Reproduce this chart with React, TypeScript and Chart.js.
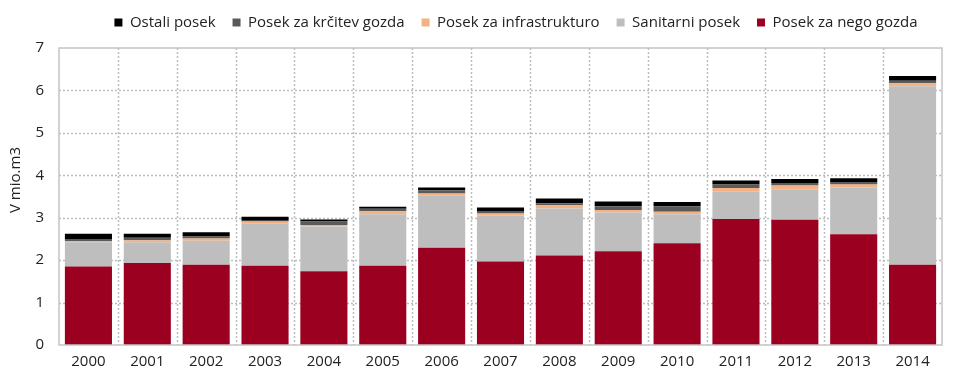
import React, { useEffect, useRef } from "react";
import { Chart, registerables } from "chart.js";

Chart.register(...registerables);

const years = ["2000","2001","2002","2003","2004","2005","2006","2007","2008","2009","2010","2011","2012","2013","2014"];
const negaGozda = [1.85,1.93,1.89,1.87,1.74,1.87,2.29,1.97,2.11,2.21,2.40,2.97,2.95,2.61,1.89];
const sanitarni = [0.57,0.49,0.57,1.00,1.05,1.21,1.24,1.08,1.11,0.91,0.68,0.64,0.72,1.10,4.21];
const infrastruktura = [0.03,0.05,0.05,0.04,0.04,0.07,0.04,0.05,0.08,0.06,0.06,0.09,0.09,0.07,0.07];
const krcitev = [0.05,0.06,0.05,0.02,0.08,0.06,0.08,0.06,0.04,0.09,0.13,0.08,0.06,0.06,0.06];
const ostali = [0.12,0.09,0.10,0.09,0.05,0.05,0.06,0.08,0.11,0.11,0.10,0.10,0.09,0.09,0.11];
const yTicks = [0,1,2,3,4,5,6,7];
const yTitle = "V mio.m3";

const FONT = "'Open Sans', 'Noto Sans', sans-serif";
const LEGEND_SHIFT = 45;

const gridPlugin = {
  id: "gridPlugin",
  beforeInit(chart: any) {
    const legend = chart.legend;
    if (legend) {
      const fit = legend.fit;
      legend.fit = function () {
        fit.call(this);
        this.height = 50;
      };
      const draw = legend.draw;
      legend.draw = function () {
        const ctx = this.ctx;
        ctx.save();
        ctx.translate(LEGEND_SHIFT, 0);
        draw.call(this);
        ctx.restore();
      };
    }
  },
  beforeDatasetsDraw(chart: any) {
    const { ctx, chartArea, scales } = chart;
    const { left, right, top, bottom } = chartArea;
    ctx.save();
    ctx.strokeStyle = "#bdbdbd";
    ctx.lineWidth = 1.5;
    ctx.setLineDash([2, 2]);
    for (const v of yTicks) {
      if (v === 0 || v === 7) continue;
      const y = Math.round(scales.y.getPixelForValue(v)) + 0.5;
      ctx.beginPath();
      ctx.moveTo(left, y);
      ctx.lineTo(right, y);
      ctx.stroke();
    }
    const n = years.length;
    for (let i = 1; i < n; i++) {
      const x = Math.round((scales.x.getPixelForValue(i - 1) + scales.x.getPixelForValue(i)) / 2) + 0.5;
      ctx.beginPath();
      ctx.moveTo(x, top);
      ctx.lineTo(x, bottom);
      ctx.stroke();
    }
    ctx.restore();
  },
  afterDraw(chart: any) {
    const { ctx, chartArea } = chart;
    ctx.save();
    ctx.strokeStyle = "#c4c4c4";
    ctx.lineWidth = 1.5;
    ctx.setLineDash([]);
    ctx.strokeRect(chartArea.left, chartArea.top, chartArea.right - chartArea.left, chartArea.bottom - chartArea.top);
    // y-axis title
    ctx.translate(16, 180);
    ctx.rotate(-Math.PI / 2);
    ctx.fillStyle = "#222";
    ctx.font = `15px ${FONT}`;
    ctx.textAlign = "center";
    ctx.textBaseline = "middle";
    ctx.fillText(yTitle, 0, 0);
    ctx.restore();
  },
};

export default function App() {
  const ref = useRef<HTMLCanvasElement | null>(null);
  useEffect(() => {
    document.body.style.margin = "0";
    const c = ref.current;
    if (!c) return;
    const chart = new Chart(c, {
      type: "bar",
      data: {
        labels: years,
        datasets: [
          { label: "Posek za nego gozda", data: negaGozda, backgroundColor: "#9c0020" },
          { label: "Sanitarni posek", data: sanitarni, backgroundColor: "#bebebe" },
          { label: "Posek za infrastrukturo", data: infrastruktura, backgroundColor: "#f4b183" },
          { label: "Posek za krčitev gozda", data: krcitev, backgroundColor: "#5a5a5a" },
          { label: "Ostali posek", data: ostali, backgroundColor: "#000000" },
        ],
      },
      options: {
        animation: false,
        responsive: false,
        devicePixelRatio: 1,
        datasets: { bar: { categoryPercentage: 0.8, barPercentage: 1, borderWidth: 0 } },
        layout: { padding: { left: 0, right: 18, top: -2, bottom: 0 } },
        plugins: {
          tooltip: { enabled: false },
          legend: {
            position: "top",
            reverse: true,
            labels: {
              boxWidth: 8,
              boxHeight: 8,
              padding: 17,
              color: "#222",
              font: { family: FONT, size: 15 },
            },
          },
        },
        scales: {
          x: {
            stacked: true,
            grid: { display: false, drawTicks: false },
            border: { display: false },
            afterFit: (scale: any) => {
              scale.height = 42;
            },
            ticks: { color: "#222", font: { family: FONT, size: 15 }, padding: 8, maxRotation: 0 },
          },
          y: {
            stacked: true,
            min: 0,
            max: 7,
            afterBuildTicks: (axis: any) => {
              axis.ticks = yTicks.map((v) => ({ value: v }));
            },
            afterFit: (scale: any) => {
              scale.width = 59;
            },
            grid: { display: false, drawTicks: false },
            border: { display: false },
            ticks: { color: "#222", font: { family: FONT, size: 15 }, padding: 15 },
            title: { display: false },
          },
        },
      },
      plugins: [gridPlugin],
    });
    return () => chart.destroy();
  }, []);
  return <canvas ref={ref} width={960} height={387} style={{ display: "block" }} />;
}
